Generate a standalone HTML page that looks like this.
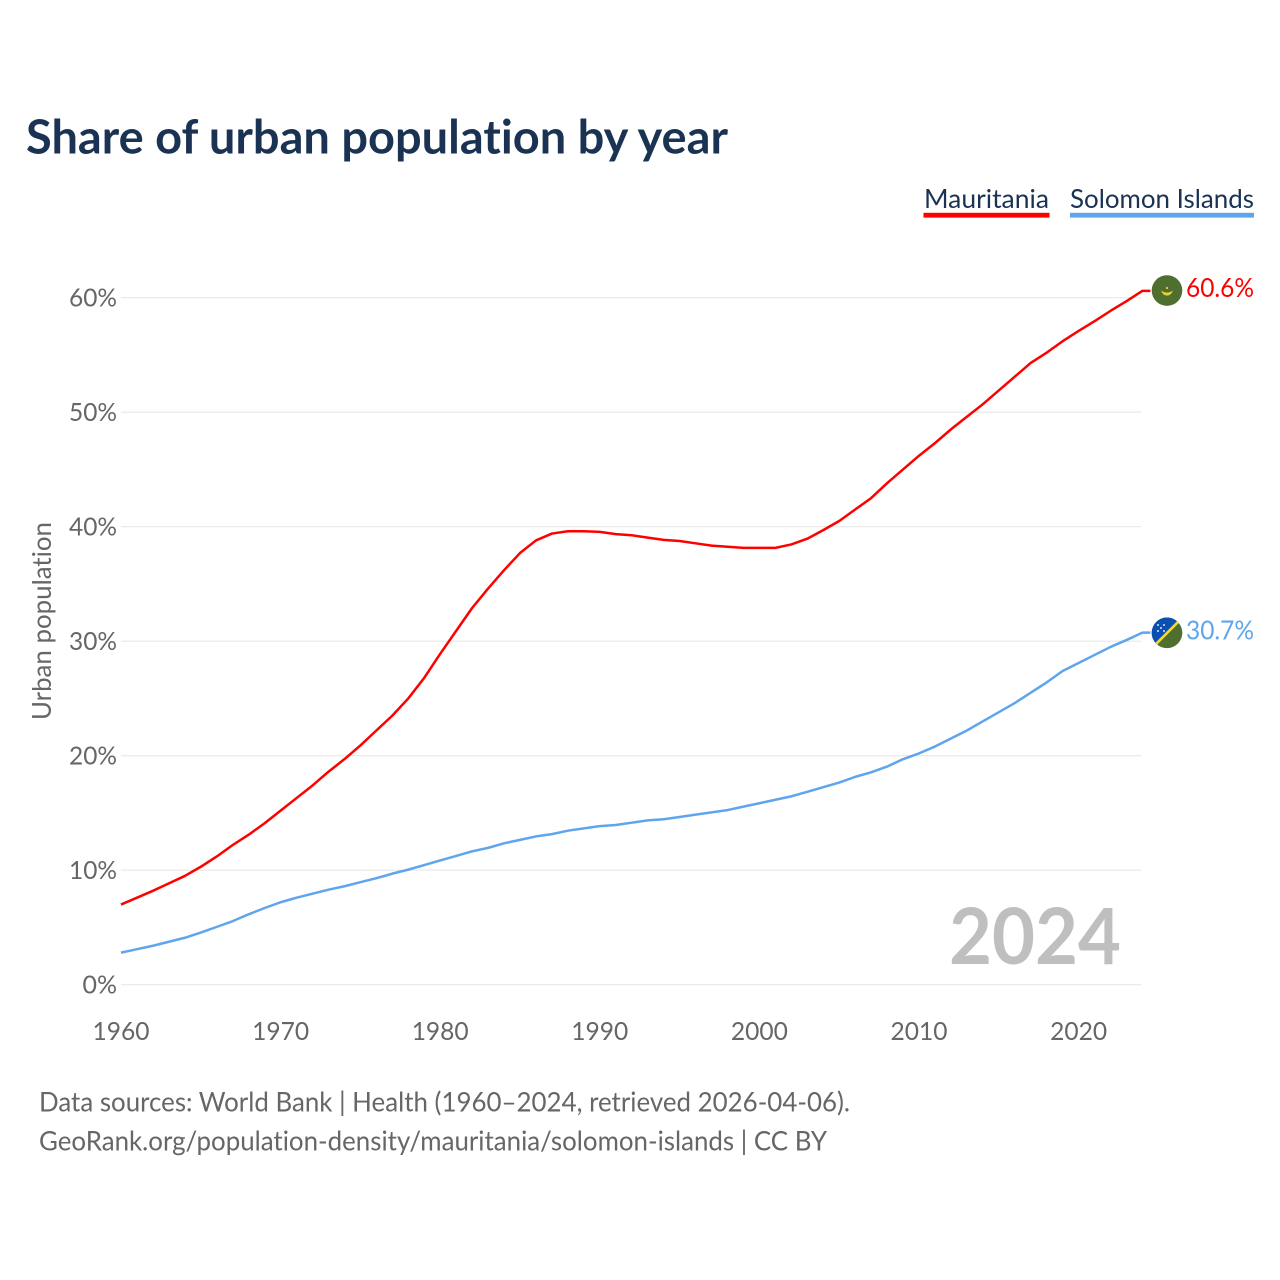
<!DOCTYPE html>
<html lang="en">
<head>
<meta charset="utf-8">
<title>Share of urban population by year</title>
<style>
html,body{margin:0;padding:0;background:#fff;width:1280px;height:1280px;overflow:hidden}
svg{display:block}
text{font-family:"Lato","Carlito","Liberation Sans",sans-serif;font-variant-ligatures:none;font-feature-settings:"liga" 0,"clig" 0}
</style>
</head>
<body>
<svg id="chart" xmlns="http://www.w3.org/2000/svg" width="1280" height="1280" viewBox="0 0 1280 1280">
  <rect width="1280" height="1280" fill="#fff"/>
  <text x="26" y="153.500" font-size="46.500" font-weight="700" fill="#1a3353" textLength="702" lengthAdjust="spacingAndGlyphs">Share of urban population by year</text>

  <g>
    <text x="924" y="208" font-size="26.500" fill="#1a3353" textLength="125" lengthAdjust="spacingAndGlyphs">Mauritania</text>
    <rect x="923.500" y="212.800" width="126" height="4.800" fill="#ff0000"/>
  </g>
  <g>
    <text x="1070" y="208" font-size="26.500" fill="#1a3353" textLength="184" lengthAdjust="spacingAndGlyphs">Solomon Islands</text>
    <rect x="1070" y="212.800" width="184" height="4.800" fill="#5fa5ec"/>
  </g>

  <g id="grid"></g>
  <g id="yticks"></g>
  <g id="xticks"></g>

  <text transform="translate(51,720) rotate(-90)" font-size="26.500" fill="#666666" textLength="198" lengthAdjust="spacingAndGlyphs">Urban population</text>

  <text x="949" y="964" font-size="78" font-weight="700" fill="#bfbfbf" textLength="172" lengthAdjust="spacingAndGlyphs">2024</text>

  <g id="series"></g>

  <defs>
    <clipPath id="flag-clip-sb"><circle id="clip-sb-circle" cx="1167" cy="632.800" r="15.300"/></clipPath>
  </defs>
  <g id="flag-mr">
    <circle cx="1167" cy="290.500" r="15.300" fill="#4f6f2f"/>
    <path d="M1161.500 290.800 A5.600 5.600 0 0 0 1172.500 290.800 A6.500 4 0 0 1 1161.500 290.800 Z" fill="#e8cf3f" stroke="#e8cf3f" stroke-width="0.400"/>
    <circle cx="1167" cy="288" r="1.100" fill="#e8cf3f"/>
  </g>
  <g id="flag-sb" clip-path="url(#flag-clip-sb)">
    <rect x="1150" y="615" width="34" height="36" fill="#4f6f2f"/>
    <path d="M1150 616 H1184 L1150 650 Z" fill="#0b50b0"/>
    <path d="M1184 616 L1150 650" stroke="#f0d840" stroke-width="2.600"/>
    <g fill="#d8e4f4">
      <circle cx="1158" cy="625" r="1"/><circle cx="1164" cy="625" r="1"/><circle cx="1161" cy="628" r="1"/><circle cx="1158" cy="631" r="1"/><circle cx="1164" cy="631" r="1"/>
    </g>
  </g>

  <g id="end-labels"></g>

  <text x="39" y="1111.500" font-size="26.800" fill="#666666" textLength="811" lengthAdjust="spacingAndGlyphs">Data sources: World Bank | Health (1960–2024, retrieved 2026-04-06).</text>
  <text x="39" y="1150.500" font-size="26.800" fill="#666666" textLength="788" lengthAdjust="spacingAndGlyphs">GeoRank.org/population-density/mauritania/solomon-islands | CC BY</text>
</svg>

<script>
const years = [1960,1961,1962,1963,1964,1965,1966,1967,1968,1969,1970,1971,1972,1973,1974,1975,1976,1977,1978,1979,1980,1981,1982,1983,1984,1985,1986,1987,1988,1989,1990,1991,1992,1993,1994,1995,1996,1997,1998,1999,2000,2001,2002,2003,2004,2005,2006,2007,2008,2009,2010,2011,2012,2013,2014,2015,2016,2017,2018,2019,2020,2021,2022,2023,2024];
const mauritania = [7.0,7.6,8.2,8.85,9.5,10.3,11.2,12.2,13.1,14.1,15.2,16.3,17.4,18.6,19.7,20.9,22.2,23.5,25.0,26.8,28.9,30.9,32.9,34.6,36.2,37.7,38.8,39.4,39.6,39.6,39.55,39.35,39.25,39.05,38.85,38.75,38.55,38.35,38.25,38.15,38.15,38.15,38.45,38.95,39.7,40.5,41.5,42.5,43.8,45.0,46.2,47.3,48.5,49.6,50.7,51.9,53.1,54.3,55.2,56.2,57.1,57.95,58.85,59.7,60.6];
const solomonIslands = [2.8,3.1,3.4,3.75,4.1,4.55,5.05,5.55,6.15,6.7,7.2,7.6,7.95,8.3,8.6,8.95,9.3,9.7,10.05,10.45,10.85,11.25,11.65,11.95,12.35,12.65,12.95,13.15,13.45,13.65,13.85,13.95,14.15,14.35,14.45,14.65,14.85,15.05,15.25,15.55,15.85,16.15,16.45,16.85,17.25,17.65,18.15,18.55,19.05,19.7,20.2,20.8,21.5,22.2,23.0,23.8,24.6,25.5,26.4,27.4,28.1,28.8,29.5,30.1,30.75];
const yTicks = [0,10,20,30,40,50,60];
const yTickLabels = ["0%","10%","20%","30%","40%","50%","60%"];
const xTicks = [1960,1970,1980,1990,2000,2010,2020];
const xTickLabels = ["1960","1970","1980","1990","2000","2010","2020"];
const mauritaniaEndLabel = "60.6%";
const solomonEndLabel = "30.7%";

const NS = "http://www.w3.org/2000/svg";
const X0 = 121, PXYEAR = 15.96, Y0 = 984.7, PXPCT = 11.45, XEND = 1141;
function xScale(year){ return X0 + (year - 1960) * PXYEAR; }
function yScale(v){ return Y0 - v * PXPCT; }
function make(tag, attrs, parent, txt){
  const el = document.createElementNS(NS, tag);
  for (const k in attrs) el.setAttribute(k, attrs[k]);
  if (txt !== undefined) el.textContent = txt;
  parent.appendChild(el);
  return el;
}

const grid = document.getElementById('grid');
const yG = document.getElementById('yticks');
const xG = document.getElementById('xticks');
const seriesG = document.getElementById('series');
const labelsG = document.getElementById('end-labels');

yTicks.forEach(function(t, i){
  const line = make('line', {x1:X0, x2:XEND, y1:yScale(t), y2:yScale(t), stroke:'#e8e8e8', 'stroke-width':1.2}, grid);
  
  
  const label = make('text', {x:117, y:yScale(t)+9, 'text-anchor':'end', 'font-size':25.5, fill:'#666666', textLength:(yTickLabels[i].length === 2 ? 34.5 : 48), lengthAdjust:'spacingAndGlyphs'}, yG, yTickLabels[i]);
  
  
});

xTicks.forEach(function(t, i){
  const label = make('text', {x:xScale(t), y:1040, 'text-anchor':'middle', 'font-size':25.5, fill:'#666666', textLength:57, lengthAdjust:'spacingAndGlyphs'}, xG, xTickLabels[i]);
  
  
});

function linePath(values){
  let d = '';
  values.forEach(function(v, i){
    d += (i ? 'L' : 'M') + xScale(years[i]).toFixed(2) + ' ' + yScale(v).toFixed(2);
  });
  const last = values[values.length - 1];
  d += 'L' + (xScale(years[years.length - 1]) + 8).toFixed(2) + ' ' + yScale(last).toFixed(2);
  return d;
}

const lineM = make('path', {d:linePath(mauritania), fill:'none', stroke:'#ff0000', 'stroke-width':2.5, 'stroke-linejoin':'round'}, seriesG);


const lineS = make('path', {d:linePath(solomonIslands), fill:'none', stroke:'#5fa5ec', 'stroke-width':2.5, 'stroke-linejoin':'round'}, seriesG);



const lastM = mauritania[mauritania.length - 1];
const lastS = solomonIslands[solomonIslands.length - 1];
const endM = make('text', {x:1186, y:yScale(lastM)+6.3, 'font-size':26.5, fill:'#ff0000', textLength:68, lengthAdjust:'spacingAndGlyphs'}, labelsG, mauritaniaEndLabel);


const endS = make('text', {x:1186, y:yScale(lastS)+7, 'font-size':26.5, fill:'#5fa5ec', textLength:68, lengthAdjust:'spacingAndGlyphs'}, labelsG, solomonEndLabel);



document.getElementById('flag-mr').setAttribute('transform', 'translate(0 ' + (yScale(lastM) - 290.8).toFixed(2) + ')');
document.getElementById('flag-sb').setAttribute('transform', 'translate(0 ' + (yScale(lastS) - 632.6).toFixed(2) + ')');
</script>
</body>
</html>
